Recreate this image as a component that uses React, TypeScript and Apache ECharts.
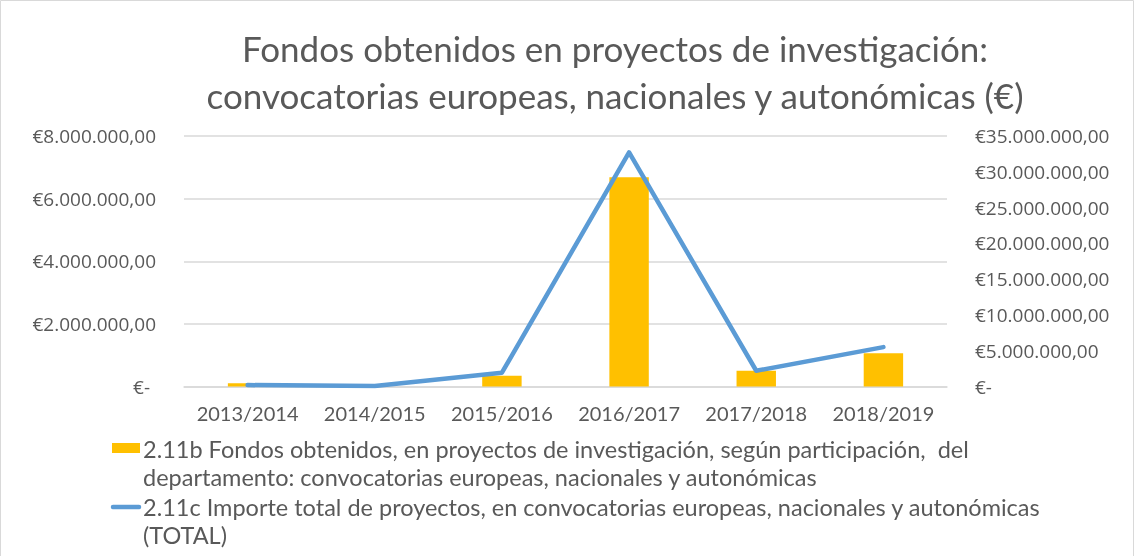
import React, { useEffect, useRef } from "react";
import * as echarts from "echarts";

const categories = ["2013/2014", "2014/2015", "2015/2016", "2016/2017", "2017/2018", "2018/2019"];
const fondosDepartamento = [100000, 0, 345000, 6680000, 505000, 1060000];
const importeTotal = [200000, 80000, 1930000, 32700000, 2200000, 5500000];
const leftTicks = { min: 0, max: 8000000, interval: 2000000 };
const rightTicks = { min: 0, max: 35000000, interval: 5000000 };
const titleLines = ["Fondos obtenidos en proyectos de investigación:", "convocatorias europeas, nacionales y autonómicas (€)"];
const seriesNames = [
  "2.11b Fondos obtenidos, en proyectos de investigación, según participación,  del\ndepartamento: convocatorias europeas, nacionales y autonómicas",
  "2.11c Importe total de proyectos, en convocatorias europeas, nacionales y autonómicas\n(TOTAL)",
];

const FONT = "Lato";
const AXFONT = "Open Sans";
const GREY = "#595959";

function fmtEuro(v: number): string {
  if (v === 0) return "{z|€-}";
  const s = Math.round(v).toString().replace(/\B(?=(\d{3})+(?!\d))/g, ".");
  return "€" + s + ",00";
}

export default function App() {
  const ref = useRef<HTMLDivElement>(null);
  useEffect(() => {
    const chart = echarts.init(ref.current!, null, { renderer: "svg" });
    chart.setOption({
      animation: false,
      textStyle: { fontFamily: FONT },
      title: {
        text: titleLines.join("\n"),
        left: 610,
        top: 19,
        textAlign: "center",
        textStyle: { fontFamily: FONT, fontSize: 35, fontWeight: "normal", color: GREY, lineHeight: 47 },
      },
      grid: { left: 184, right: 188, top: 136, bottom: 169.5 },
      xAxis: {
        type: "category",
        data: categories,
        axisLine: { show: true, lineStyle: { color: "#d9d9d9", width: 1.5 } },
        axisTick: { show: false },
        axisLabel: { color: GREY, fontSize: 20, fontFamily: FONT, margin: 16, interval: 0 },
      },
      yAxis: [
        {
          type: "value",
          ...leftTicks,
          position: "left",
          axisLine: { show: false },
          axisTick: { show: false },
          splitLine: { lineStyle: { color: "#d9d9d9", width: 1.5 } },
          axisLabel: {
            color: GREY, fontSize: 19, fontFamily: AXFONT, margin: 28,
            formatter: fmtEuro,
            rich: { z: { color: GREY, fontSize: 19, fontFamily: AXFONT, padding: [0, 6, 0, 0] } },
          },
        },
        {
          type: "value",
          ...rightTicks,
          position: "right",
          axisLine: { show: false },
          axisTick: { show: false },
          splitLine: { show: false },
          axisLabel: {
            color: GREY, fontSize: 19, fontFamily: AXFONT, margin: 28,
            formatter: fmtEuro,
            rich: { z: { color: GREY, fontSize: 19, fontFamily: AXFONT } },
          },
        },
      ],
      series: [
        {
          name: seriesNames[0],
          type: "bar",
          yAxisIndex: 0,
          data: fondosDepartamento,
          barWidth: "31%",
          itemStyle: { color: "#FFC000" },
        },
        {
          name: seriesNames[1],
          type: "line",
          yAxisIndex: 1,
          data: importeTotal,
          symbol: "none",
          lineStyle: { color: "#5B9BD5", width: 4.5, cap: "round", join: "round" },
          itemStyle: { color: "#5B9BD5" },
        },
      ],
      graphic: [
        {
          type: "rect",
          shape: { x: 0.5, y: 0.5, width: 1133, height: 560 },
          style: { fill: "none", stroke: "#d9d9d9", lineWidth: 1 },
          silent: true,
        },
        {
          type: "rect",
          shape: { x: 112, y: 443, width: 28, height: 10 },
          style: { fill: "#FFC000" },
        },
        {
          type: "text",
          x: 143,
          y: 435,
          style: { text: seriesNames[0], font: `23.5px ${FONT}`, fill: GREY, lineHeight: 28 },
        },
        {
          type: "line",
          shape: { x1: 113, y1: 507, x2: 139, y2: 507 },
          style: { stroke: "#5B9BD5", lineWidth: 4.5, lineCap: "round" },
        },
        {
          type: "text",
          x: 143,
          y: 493,
          style: { text: seriesNames[1], font: `23.5px ${FONT}`, fill: GREY, lineHeight: 28 },
        },
      ],
    });
    return () => chart.dispose();
  }, []);
  return <div ref={ref} style={{ position: "fixed", left: 0, top: 0, width: 1135, height: 556 }} />;
}
